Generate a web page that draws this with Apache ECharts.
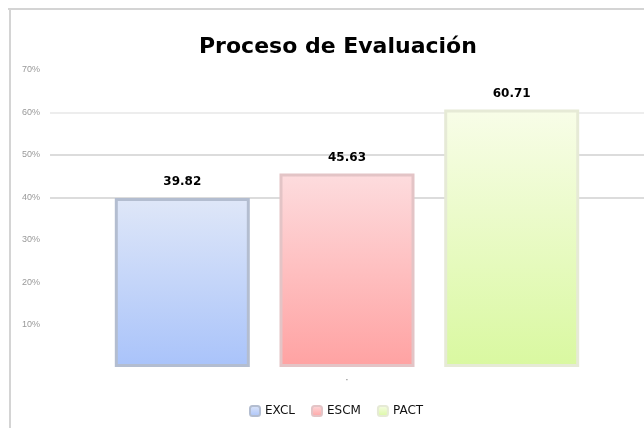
<!DOCTYPE html>
<html>
<head>
<meta charset="utf-8">
<script src="https://cdn.jsdelivr.net/npm/echarts@6/dist/echarts.min.js"></script>
<style>
  html, body { margin: 0; padding: 0; background: #fff; }
  #chart { width: 644px; height: 428px; }
</style>
</head>
<body>
<div id="chart"></div>
<script>
var categories = ['·'];
var seriesNames = ['EXCL', 'ESCM', 'PACT'];
var seriesValues = [39.82, 45.63, 60.71];
var yTicks = [0, 10, 20, 30, 40, 50, 60, 70];

var palette = [
    { top: '#dfe7f8', bottom: '#a9c3fa', border: '#b3bdd0' },
    { top: '#fddcde', bottom: '#ffa2a2', border: '#e3c4c6' },
    { top: '#f8fde8', bottom: '#d9f8a0', border: '#e6ead6' }
];

function gradient(c) {
    return new echarts.graphic.LinearGradient(0, 0, 0, 1, [
        { offset: 0, color: c.top },
        { offset: 1, color: c.bottom }
    ]);
}

var series = seriesNames.map(function (name, i) {
    return {
        name: name,
        type: 'bar',
        data: [seriesValues[i]],
        barWidth: 135,
        barGap: '22%',
        itemStyle: {
            color: gradient(palette[i]),
            borderColor: palette[i].border,
            borderWidth: 3
        },
        label: {
            show: true,
            position: 'top',
            distance: 10,
            color: '#000',
            fontWeight: 'bold',
            fontSize: 12,
            fontFamily: 'DejaVu Sans',
            formatter: function (p) { return p.value.toFixed(2); }
        }
    };
});

var chart = echarts.init(document.getElementById('chart'));
chart.setOption({
    animation: false,
    title: {
        text: 'Proceso de Evaluación',
        left: 194,
        top: 31,
        textStyle: { fontSize: 22, fontWeight: 'bold', color: '#000', fontFamily: 'DejaVu Sans' }
    },
    legend: {
        bottom: 6,
        left: 244,
        itemWidth: 10,
        itemHeight: 10,
        itemGap: 16,
        textStyle: { fontSize: 12, color: '#111', fontFamily: 'DejaVu Sans' },
        data: seriesNames
    },
    grid: { left: 50, right: 0, top: 70, bottom: 61 },
    xAxis: {
        type: 'category',
        data: categories,
        axisLine: { show: false },
        axisTick: { show: false },
        axisLabel: { color: '#777', fontSize: 10, margin: 8 }
    },
    yAxis: {
        type: 'value',
        min: yTicks[0],
        max: yTicks[yTicks.length - 1],
        interval: 10,
        axisLabel: {
            showMinLabel: false,
            color: '#999',
            fontSize: 9,
            margin: 10,
            formatter: '{value}%'
        },
        splitLine: {
            lineStyle: {
                width: 2,
                color: ['rgba(0,0,0,0)', 'rgba(0,0,0,0)', 'rgba(0,0,0,0)', 'rgba(0,0,0,0)',
                        '#dcdcdc', '#dcdcdc', '#ededed', 'rgba(0,0,0,0)']
            }
        }
    },
    graphic: [
        { type: 'line', shape: { x1: 8, y1: 9, x2: 644, y2: 9 }, style: { stroke: '#d4d4d4', lineWidth: 2 } },
        { type: 'line', shape: { x1: 10, y1: 9, x2: 10, y2: 428 }, style: { stroke: '#d4d4d4', lineWidth: 2 } }
    ],
    series: series
});
</script>
</body>
</html>
